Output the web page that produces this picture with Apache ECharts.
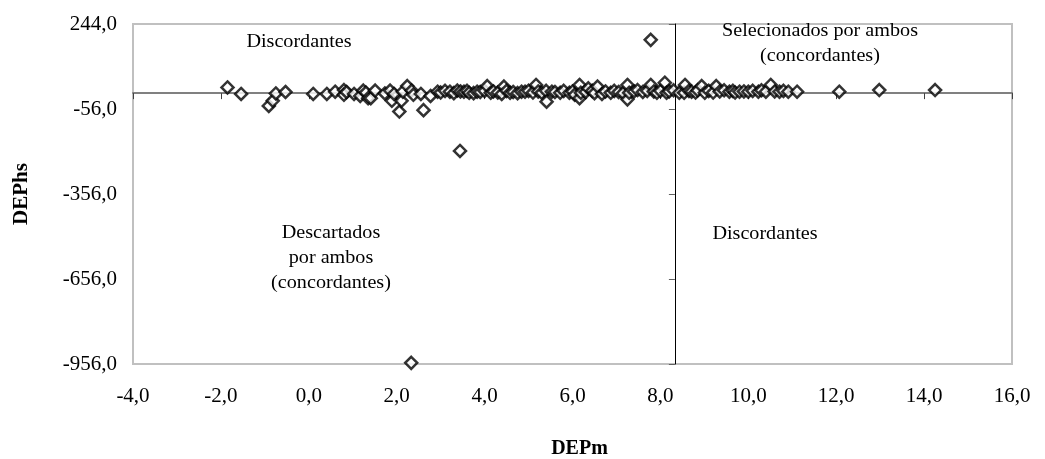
<!DOCTYPE html>
<html>
<head>
<meta charset="utf-8">
<script src="https://cdn.jsdelivr.net/npm/echarts@6/dist/echarts.min.js"></script>
<style>
  html, body { margin: 0; padding: 0; background: #fff; }
  #chart { width: 1045px; height: 459px; }
</style>
</head>
<body>
<div id="chart"></div>
<script>
// ? DEPm (eixo x) e DEPhs (eixo y)
const depm = [
  -1.85, -1.54, -0.91, -0.82, -0.75, -0.53, 0.10, 0.41, 0.60, 0.80,
  0.80, 0.86, 1.03, 1.17, 1.24, 1.30, 1.35, 1.41, 1.51, 1.73,
  1.85, 1.89, 1.94, 2.06, 2.11, 2.14, 2.24, 2.33, 2.34, 2.38,
  2.55, 2.61, 2.77, 2.93, 3.00, 3.10, 3.21, 3.30, 3.38, 3.44,
  3.45, 3.53, 3.60, 3.65, 3.75, 3.83, 3.90, 4.00, 4.06, 4.14,
  4.20, 4.30, 4.39, 4.44, 4.50, 4.58, 4.65, 4.75, 4.84, 4.92,
  5.00, 5.10, 5.17, 5.22, 5.30, 5.40, 5.41, 5.53, 5.60, 5.72,
  5.80, 5.93, 6.00, 6.05, 6.16, 6.16, 6.19, 6.30, 6.36, 6.45,
  6.50, 6.57, 6.67, 6.75, 6.87, 6.95, 7.05, 7.15, 7.25, 7.25,
  7.29, 7.40, 7.48, 7.60, 7.70, 7.78, 7.78, 7.85, 7.92, 8.00,
  8.10, 8.14, 8.20, 8.30, 8.43, 8.54, 8.56, 8.65, 8.71, 8.80,
  8.85, 8.94, 9.01, 9.10, 9.20, 9.27, 9.35, 9.45, 9.57, 9.65,
  9.70, 9.80, 9.90, 10.00, 10.10, 10.23, 10.30, 10.40, 10.51, 10.60,
  10.71, 10.80, 10.91, 11.11, 12.07, 12.98, 14.25
];
const dephs = [
  20, -3, -45, -27, -1, 4, -3, -3, 5, 11,
  -6, 4, -3, -10, 9, 2, -18, -18, 9, -1,
  9, -27, -3, -65, -27, 5, 25, -952, 9, -6,
  -3, -60, -10, 5, 2, 8, 5, 0, 9, -204,
  6, 5, 8, 1, 0, 5, 4, 8, 25, 1,
  6, 2, -3, 23, 8, 1, 4, 0, 5, 5,
  8, 2, 29, 6, 1, 8, -30, 5, 4, 1,
  8, 1, 6, -6, 29, -18, 1, 4, 17, 8,
  0, 23, -3, 6, 1, 8, 4, 0, 29, -22,
  1, 6, 11, 4, 8, 29, 188, 6, 1, 8,
  37, 1, 6, 10, 1, 1, 29, 8, 5, 2,
  10, 25, 1, 8, 2, 25, 6, 10, 5, 8,
  2, 5, 6, 5, 8, 5, 10, 5, 29, 6,
  5, 8, 5, 5, 5, 11, 11
];

// ? marcas dos eixos
const xTicks = [-4, -2, 0, 2, 4, 6, 8, 10, 12, 14, 16];
const yTicks = [-956, -656, -356, -56, 244];

// ? ponto de corte do eixo vertical (DEPm)
const xCross = 8.33;

const fmt = (v) => v.toFixed(1).replace(".", ",");
const serif = "'Liberation Serif', 'Times New Roman', serif";

const chart = echarts.init(document.getElementById("chart"));

const grid = { left: 133, right: 33, top: 24, bottom: 95 };
const plotW = 1045 - grid.left - grid.right;
const crossOffset = -((xCross - xTicks[0]) / (xTicks[xTicks.length - 1] - xTicks[0])) * plotW;

// ? textos dos quadrantes (espaçados, como no original)
const note = (x, y, text) => ({
  type: "text",
  x,
  y,
  scaleX: 1.12,
  style: {
    text,
    font: "18px " + serif,
    lineHeight: 25,
    fill: "#000",
    align: "center",
    verticalAlign: "middle",
  },
});

chart.setOption({
  backgroundColor: "#fff",
  animation: false,
  grid: {
    ...grid,
    show: true,
    borderColor: "#c0c0c0",
    borderWidth: 2,
    outerBoundsMode: "none",
  },
  xAxis: [
    {
      type: "value",
      min: -4,
      max: 16,
      interval: 2,
      position: "bottom",
      name: "DEPm",
      nameLocation: "middle",
      nameGap: 75,
      nameTextStyle: {
        fontFamily: serif,
        fontWeight: "bold",
        fontSize: 20,
        color: "#000",
        padding: [0, 0, 0, 14],
      },
      axisLine: { show: false, onZero: false },
      axisTick: { show: false },
      splitLine: { show: false },
      axisLabel: {
        customValues: xTicks,
        formatter: fmt,
        margin: 22,
        fontFamily: serif,
        fontSize: 21,
        color: "#000",
      },
    },
    {
      // ? linha horizontal em DEPhs = 0
      type: "value",
      min: -4,
      max: 16,
      interval: 2,
      position: "bottom",
      axisLine: { show: true, onZero: true, lineStyle: { color: "#808080", width: 2 } },
      axisTick: { show: true, length: 6, customValues: xTicks, lineStyle: { color: "#404040", width: 1 } },
      axisLabel: { show: false },
      splitLine: { show: false },
    },
  ],
  yAxis: [
    {
      type: "value",
      min: -956,
      max: 244,
      interval: 300,
      position: "left",
      name: "DEPhs",
      nameLocation: "middle",
      nameGap: 101,
      nameRotate: 90,
      nameTextStyle: {
        fontFamily: serif,
        fontWeight: "bold",
        fontSize: 21,
        color: "#000",
      },
      axisLine: { show: false, onZero: false },
      axisTick: { show: false },
      splitLine: { show: false },
      axisLabel: {
        customValues: yTicks,
        formatter: fmt,
        margin: 16,
        fontFamily: serif,
        fontSize: 21,
        color: "#000",
      },
    },
    {
      // ? linha vertical em DEPm = 8,33
      type: "value",
      min: -956,
      max: 244,
      interval: 300,
      position: "left",
      offset: crossOffset,
      axisLine: { show: true, onZero: false, lineStyle: { color: "#000", width: 1 } },
      axisTick: { show: true, length: 6, customValues: yTicks, lineStyle: { color: "#606060", width: 1 } },
      axisLabel: { show: false },
      splitLine: { show: false },
    },
  ],
  graphic: [
    note(299, 42, "Discordantes"),
    note(820, 44, "Selecionados por ambos\n(concordantes)"),
    note(331, 258, "Descartados\npor ambos\n(concordantes)"),
    note(765, 234, "Discordantes"),
  ],
  series: [
    {
      name: "DEPhs x DEPm",
      type: "scatter",
      xAxisIndex: 0,
      yAxisIndex: 0,
      symbol: "diamond",
      symbolSize: 12,
      itemStyle: {
        color: "#fff",
        borderColor: "#000",
        borderWidth: 2.5,
      },
      data: depm.map((x, i) => [x, dephs[i]]),
    },
  ],
});
</script>
</body>
</html>
